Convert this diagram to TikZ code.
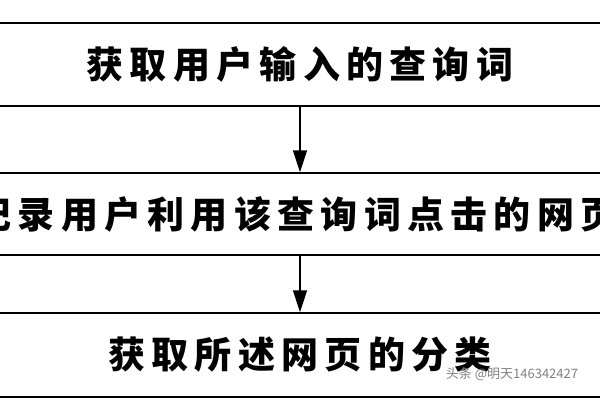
\documentclass[tikz,border=0pt]{standalone}
\usepackage{fontspec}
\usetikzlibrary{arrows.meta,positioning}
\newfontfamily\cjk{Noto Sans CJK SC}
\begin{document}
\begin{tikzpicture}[x=1pt, y=1pt]
    % Styles
    \tikzset{
        stepbox/.style={rectangle, draw=black, line width=1.5pt, minimum width=660pt, text centered,
            font=\cjk\bfseries\fontsize{37}{37}\selectfont\addfontfeature{LetterSpace=17}},
        arrow/.style={line width=1.5pt, -{Triangle[width=14pt,length=22pt]}},
        mark text/.style={font=\cjk\fontsize{13}{13}\selectfont, text=gray}
    }
    \useasboundingbox (0,0) rectangle (600,400);

    % Nodes
    \node (query)  [stepbox, minimum height=83pt] at (300,335.5) {获取用户输入的查询词};
    \node (click)  [stepbox, minimum height=82pt] at (296,186) {记录用户利用该查询词点击的网页};
    \node (class)  [stepbox, minimum height=84pt] at (300,45) {获取所述网页的分类};

    % Arrows
    \draw [arrow] (query.south -| 300,0) -- (click.north -| 300,0);
    \draw [arrow] (click.south -| 300,0) -- (class.north -| 300,0);

    % Watermark
    \node (wm) [mark text] at (512,26) {头条 @明天146342427};
\end{tikzpicture}
\end{document}
